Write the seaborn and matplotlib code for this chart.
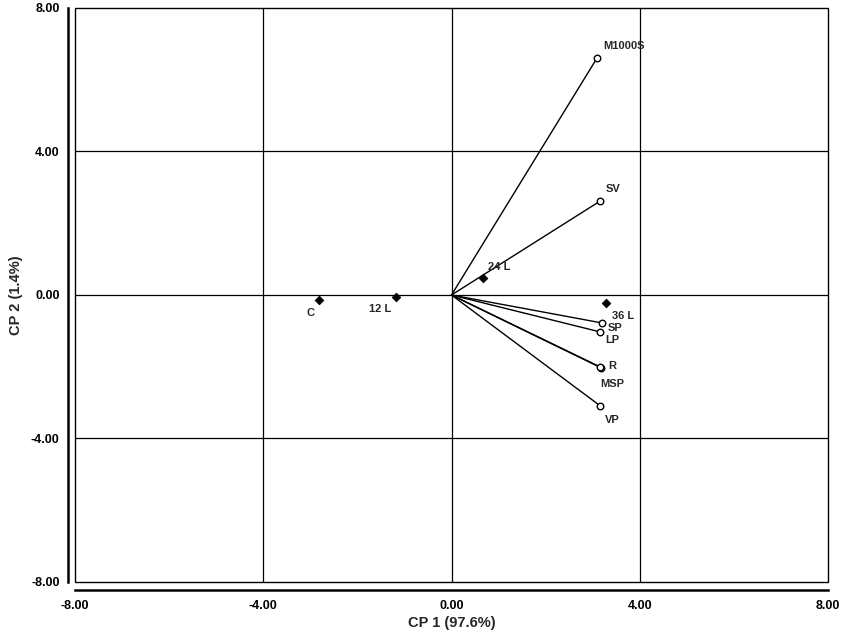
import matplotlib
matplotlib.use("Agg")
import matplotlib.pyplot as plt
import seaborn as sns
import pandas as pd
from matplotlib.patches import Rectangle
from matplotlib.ticker import FixedLocator, FormatStrFormatter

# variables (loading vectors)
var_names = ["M1000S", "SV", "SP", "LP", "R", "MSP", "VP"]
var_x = [3.09, 3.16, 3.20, 3.16, 3.18, 3.15, 3.16]
var_y = [6.60, 2.62, -0.78, -1.03, -2.03, -2.00, -3.09]

# treatments (scores)
trt_names = ["C", "12 L", "24 L", "36 L"]
trt_x = [-2.82, -1.18, 0.67, 3.28]
trt_y = [-0.14, -0.06, 0.47, -0.22]

# label offsets in pixels (dx, dy, ha)
var_off = {"M1000S": (6, 12, "left"), "SV": (6, 12, "left"), "SP": (6, -5, "left"),
           "LP": (5, -8, "left"), "R": (7, 2, "left"), "MSP": (1, -17, "left"),
           "VP": (5, -14, "left")}
trt_off = {"C": (-8, -13, "center"), "12 L": (-16, -12, "center"),
           "24 L": (5, 11, "left"), "36 L": (6, -13, "left")}

sns.set_style("white")
plt.rcParams["font.family"] = ["Liberation Sans", "DejaVu Sans"]

fig = plt.figure(figsize=(8.43, 6.33), dpi=100)
ax = fig.add_axes([75 / 843, 1 - 582 / 633, 753 / 843, 574 / 633])

df_var = pd.DataFrame({"x": var_x, "y": var_y, "name": var_names})
df_trt = pd.DataFrame({"x": trt_x, "y": trt_y, "name": trt_names})

# vectors from origin
for x, y in zip(var_x, var_y):
    ax.plot([0, x], [0, y], color="black", lw=1.0, zorder=3)

sns.scatterplot(data=df_var, x="x", y="y", marker="o", s=22, facecolor="white",
                edgecolor="black", linewidth=1.0, ax=ax, zorder=4)
sns.scatterplot(data=df_trt, x="x", y="y", marker="D", s=20, color="black",
                edgecolor="black", linewidth=0.5, ax=ax, zorder=4)

for name, x, y in zip(var_names, var_x, var_y):
    dx, dy, ha = var_off[name]
    ax.annotate(name, (x, y), xytext=(dx, dy), textcoords="offset pixels",
                ha=ha, va="center", fontsize=8, fontweight="bold")
for name, x, y in zip(trt_names, trt_x, trt_y):
    dx, dy, ha = trt_off[name]
    ax.annotate(name, (x, y), xytext=(dx, dy), textcoords="offset pixels",
                ha=ha, va="center", fontsize=8, fontweight="bold")

ax.set_xlim(-8, 8)
ax.set_ylim(-8, 8)
ticks = [-8, -4, 0, 4, 8]
ax.xaxis.set_major_locator(FixedLocator(ticks))
ax.yaxis.set_major_locator(FixedLocator(ticks))
ax.xaxis.set_major_formatter(FormatStrFormatter("%.2f"))
ax.yaxis.set_major_formatter(FormatStrFormatter("%.2f"))

# grid lines at -4, 0, 4
for v in [-4, 0, 4]:
    ax.axhline(v, color="black", lw=0.9, zorder=1)
    ax.axvline(v, color="black", lw=0.9, zorder=1)

# inner box
ax.add_patch(Rectangle((0, 0), 1, 1, transform=ax.transAxes, fill=False,
                       edgecolor="black", lw=1.0, clip_on=False, zorder=2))

for s in ["top", "right"]:
    ax.spines[s].set_visible(False)
ax.spines["left"].set_position(("outward", 5))
ax.spines["bottom"].set_position(("outward", 6))
for s in ["left", "bottom"]:
    ax.spines[s].set_linewidth(1.8)
    ax.spines[s].set_color("black")

ax.tick_params(axis="both", direction="out", length=4, width=1.2, colors="black",
               labelsize=9, pad=2)
ax.tick_params(axis="x", pad=3)
for lab in ax.get_xticklabels() + ax.get_yticklabels():
    lab.set_fontweight("bold")

ax.set_xlabel("CP 1 (97.6%)", fontsize=10.5, fontweight="bold", labelpad=3)
ax.set_ylabel("CP 2 (1.4%)", fontsize=10.5, fontweight="bold", labelpad=6)

fig.savefig("out.png", dpi=100)
